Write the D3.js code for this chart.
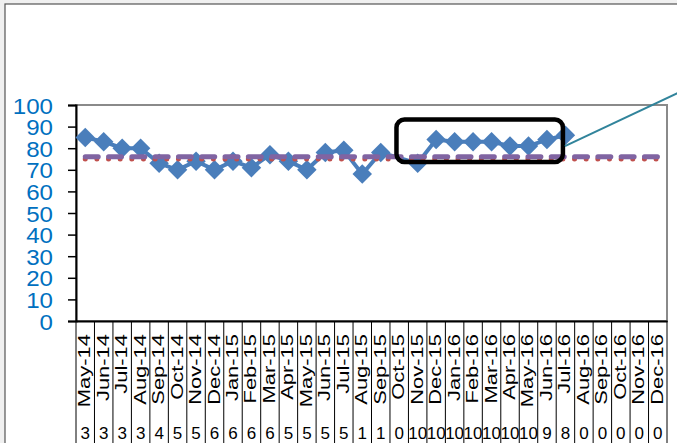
<!DOCTYPE html>
<html><head><meta charset="utf-8">
<script src="https://cdn.jsdelivr.net/npm/d3@7"></script>
<style>body{margin:0;background:#f0f0f0;overflow:hidden}svg{display:block}</style>
</head><body><svg id="c" width="677" height="443"></svg>
<script>
const categories = ["May-14","Jun-14","Jul-14","Aug-14","Sep-14","Oct-14","Nov-14","Dec-14",
  "Jan-15","Feb-15","Mar-15","Apr-15","May-15","Jun-15","Jul-15","Aug-15","Sep-15","Oct-15","Nov-15","Dec-15",
  "Jan-16","Feb-16","Mar-16","Apr-16","May-16","Jun-16","Jul-16","Aug-16","Sep-16","Oct-16","Nov-16","Dec-16"];
const rate = [85,83,80,80,73,70,74,70,74,71,77,74,70,78,79,68,78,null,73,84,83,83,83,81,81,84,86,null,null,null,null,null];
const target = [76,76,76,76,76,76,76,76,76,76,76,76,76,76,76,76,76,76,76,76,76,76,76,76,76,76,76,76,76,76,76,76];
const mean = [75,75,75,75,75,75,75,75,75,75,75,75,75,75,75,75,75,75,75,75,75,75,75,75,75,75,75,75,75,75,75,75];
const counts = [3,3,3,3,4,5,5,6,6,6,6,5,5,5,5,1,1,0,10,10,10,10,10,10,10,9,8,0,0,0,0,0];
const yTicks = [0,10,20,30,40,50,60,70,80,90,100];
const highlight = {from:"Oct-15", to:"Jul-16", top:93.3, bottom:73.6, pointer:81};

const svg = d3.select("#c");
const font = "'Liberation Sans', Arial, sans-serif";
svg.append("rect").attr("x",5).attr("y",4).attr("width",700).attr("height",460)
  .attr("fill","#fff").attr("stroke","#555").attr("stroke-width",1.2);

const x = d3.scaleBand().domain(categories).range([76,667]).padding(0);
const y = d3.scaleLinear().domain([0,100]).range([321,105]);
const bw = x.bandwidth();
const cx = c => x(c) + bw/2;

// plot border
svg.append("rect").attr("x",76).attr("y",105).attr("width",591).attr("height",216)
  .attr("fill","none").attr("stroke","#8a8a8a").attr("stroke-width",2);

// table grid lines
const bounds = categories.map(c => x(c)).concat([x.range()[1]]);
svg.append("g").selectAll("line").data(bounds).join("line")
  .attr("x1",d=>d).attr("x2",d=>d).attr("y1",321).attr("y2",443)
  .attr("stroke","#000").attr("stroke-width",1);

// y axis
const ya = svg.append("g").attr("transform","translate(76,0)")
  .call(d3.axisLeft(y).tickValues(yTicks).tickSize(8).tickPadding(0));
ya.select(".domain").attr("stroke","#000").attr("stroke-width",2);
ya.selectAll(".tick line").attr("stroke","#000").attr("stroke-width",1.5);
ya.selectAll(".tick text").attr("font-family",font).attr("font-size",22.5)
  .attr("fill","#0070c0").attr("x",-23/1.07).attr("dy","0.36em")
  .attr("transform","scale(1.07,1)");

// x axis
const xa = svg.append("g").attr("transform","translate(0,321)")
  .call(d3.axisBottom(x).tickSize(0));
xa.select(".domain").attr("stroke","#000").attr("stroke-width",2);
xa.selectAll(".tick text").attr("font-family",font).attr("font-size",16.5).attr("fill","#000")
  .attr("y",null).attr("dy",null).attr("text-anchor","end")
  .attr("transform","translate(5,13) rotate(-90) scale(1.33,1)");

// counts row
svg.append("g").selectAll("text").data(categories).join("text")
  .attr("x",d=>cx(d)).attr("y",438.5).attr("text-anchor","middle")
  .attr("font-family",font).attr("font-size",17).attr("fill","#000")
  .text((d,i)=>counts[i]);

// series
const pts = categories.map((c,i)=>({c, v:rate[i]})).filter(d=>d.v!==null);
svg.append("path").datum(pts).attr("fill","none").attr("stroke","#4a7ebb").attr("stroke-width",4)
  .attr("d", d3.line().x(d=>cx(d.c)).y(d=>y(d.v)));
svg.append("g").selectAll("path").data(pts).join("path")
  .attr("d", d3.symbol(d3.symbolSquare, 190))
  .attr("transform", d=>`translate(${cx(d.c)},${y(d.v)}) rotate(45)`)
  .attr("fill","#4a7ebb");

// mean (red dotted) and target (purple dashed)
svg.append("path").datum(mean).attr("fill","none").attr("stroke","#c0504d").attr("stroke-width",5)
  .attr("stroke-linecap","round").attr("stroke-dasharray","0 11.65")
  .attr("d", d3.line().x((d,i)=>cx(categories[i])).y(d=>y(d)));
svg.append("path").datum(target).attr("fill","none").attr("stroke","#8064a2").attr("stroke-width",5)
  .attr("stroke-linecap","round").attr("stroke-dasharray","13 10.3")
  .attr("d", d3.line().x((d,i)=>cx(categories[i])).y(d=>y(d)));

// highlight box and pointer
const bx0 = x(highlight.from) + 6.5, bx1 = cx(highlight.to) - 2.5;
svg.append("rect").attr("x",bx0).attr("y",y(highlight.top)).attr("width",bx1-bx0)
  .attr("height",y(highlight.bottom)-y(highlight.top)).attr("rx",8)
  .attr("fill","none").attr("stroke","#000").attr("stroke-width",4.5);
const py = y(highlight.pointer);
svg.append("line").attr("x1",bx1+2).attr("y1",py).attr("x2",bx1+2+140).attr("y2",py-0.47*140)
  .attr("stroke","#31849b").attr("stroke-width",2);
</script></body></html>
